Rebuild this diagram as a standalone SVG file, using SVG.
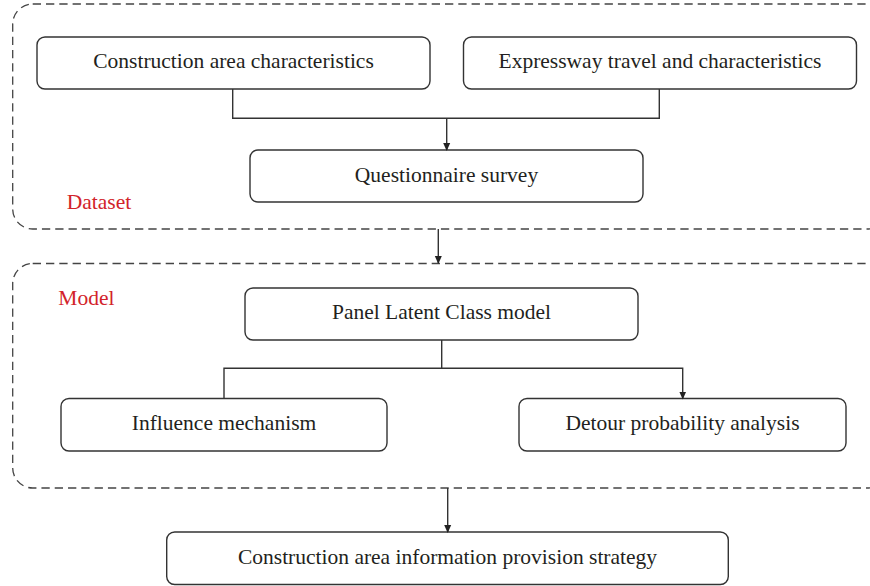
<svg xmlns="http://www.w3.org/2000/svg" width="870" height="586" viewBox="0 0 870 586">
<style>
.grp{fill:none;stroke:#444;stroke-width:1.3;stroke-dasharray:8.3 5}
.box{fill:#fff;stroke:#333;stroke-width:1.4}
.t{font-family:"Liberation Serif","Times New Roman",serif;font-size:21.5px;fill:#231f20;text-anchor:middle}
.lbl{font-family:"Liberation Serif","Times New Roman",serif;font-size:21.5px;fill:#d2232a}
.c{fill:none;stroke:#333;stroke-width:1.4}
</style>
<defs>
<marker id="ah" markerWidth="8" markerHeight="8" refX="7" refY="4" orient="auto" markerUnits="userSpaceOnUse">
<path d="M0,0.5 L8,4 L0,7.5 Z" fill="#222"/>
</marker>
</defs>
<g id="dataset">
<rect class="grp" x="12.7" y="4" width="876" height="225" rx="20"/>
<text class="lbl" x="66.7" y="209">Dataset</text>
</g>
<g id="model">
<rect class="grp" x="12.7" y="263.5" width="876" height="224.5" rx="20"/>
<text class="lbl" x="58.3" y="305">Model</text>
</g>
<g id="n1">
<rect class="box" x="37" y="37" width="393" height="52" rx="8"/>
<text class="t" x="233.5" y="68.3">Construction area characteristics</text>
</g>
<g id="n2">
<rect class="box" x="463.5" y="37" width="393" height="52" rx="8"/>
<text class="t" x="660" y="68.3">Expressway travel and characteristics</text>
</g>
<g id="n3">
<rect class="box" x="250" y="150" width="393" height="52" rx="8"/>
<text class="t" x="446.5" y="181.7">Questionnaire survey</text>
</g>
<g id="n4">
<rect class="box" x="245" y="288" width="393" height="52" rx="8"/>
<text class="t" x="441.5" y="319">Panel Latent Class model</text>
</g>
<g id="n5">
<rect class="box" x="61" y="398.5" width="326" height="52.5" rx="8"/>
<text class="t" x="224" y="430">Influence mechanism</text>
</g>
<g id="n6">
<rect class="box" x="519" y="398.5" width="327" height="52.5" rx="8"/>
<text class="t" x="682.5" y="430">Detour probability analysis</text>
</g>
<g id="n7">
<rect class="box" x="166.7" y="532" width="561.6" height="52.5" rx="8"/>
<text class="t" x="447.5" y="563.5">Construction area information provision strategy</text>
</g>
<g id="connectors">
<polyline class="c" points="232.7,89 232.7,118.3 659.3,118.3 659.3,89"/>
<line class="c" x1="446.7" y1="118.3" x2="446.7" y2="150" marker-end="url(#ah)"/>
<line class="c" x1="438.3" y1="229" x2="438.3" y2="263" marker-end="url(#ah)"/>
<polyline class="c" points="441.7,340 441.7,368.3"/>
<polyline class="c" points="224,398.5 224,368.3 682.7,368.3 682.7,398.5" marker-end="url(#ah)"/>
<line class="c" x1="447.7" y1="488" x2="447.7" y2="532" marker-end="url(#ah)"/>
</g>
</svg>
